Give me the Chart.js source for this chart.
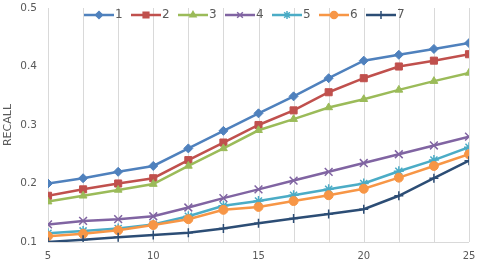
<!DOCTYPE html>
<html>
<head>
<meta charset="utf-8">
<script src="https://cdn.jsdelivr.net/npm/chart.js@4/dist/chart.umd.min.js"></script>
<style>
  html, body { margin: 0; padding: 0; background: #fff; }
  #wrap { width: 480px; height: 265px; }
</style>
</head>
<body>
<div id="wrap"><canvas id="chart"></canvas></div>
<script>
'use strict';
const xValues     = [5, 6.667, 8.333, 10, 11.667, 13.333, 15, 16.667, 18.333, 20, 21.667, 23.333, 25];
const xTickLabels = [5, 10, 15, 20, 25];
const yTicks      = [0.1, 0.2, 0.3, 0.4, 0.5];
const seriesNames = ['1', '2', '3', '4', '5', '6', '7'];

const recall1 = [0.200, 0.209, 0.220, 0.230, 0.260, 0.290, 0.320, 0.349, 0.380, 0.410, 0.420, 0.430, 0.440];
const recall2 = [0.179, 0.190, 0.200, 0.209, 0.240, 0.270, 0.300, 0.325, 0.356, 0.380, 0.400, 0.410, 0.421];
const recall3 = [0.169, 0.179, 0.189, 0.199, 0.230, 0.260, 0.291, 0.310, 0.330, 0.344, 0.360, 0.375, 0.389];
const recall4 = [0.130, 0.136, 0.139, 0.144, 0.159, 0.175, 0.190, 0.205, 0.220, 0.235, 0.250, 0.265, 0.280];
const recall5 = [0.115, 0.119, 0.123, 0.130, 0.144, 0.162, 0.170, 0.180, 0.190, 0.200, 0.221, 0.240, 0.262];
const recall6 = [0.110, 0.114, 0.120, 0.129, 0.139, 0.155, 0.160, 0.170, 0.180, 0.191, 0.210, 0.230, 0.250];
const recall7 = [0.100, 0.104, 0.108, 0.112, 0.116, 0.123, 0.132, 0.140, 0.148, 0.156, 0.179, 0.209, 0.239];

const SERIES = [recall1, recall2, recall3, recall4, recall5, recall6, recall7];
const COLORS = ['#4f81bd', '#c0504d', '#9bbb59', '#8064a2', '#4bacc6', '#f79646', '#2c4d75'];
const MARKER = [
  { style: 'rectRot',  r: 4.5, lr: 3.5 },
  { style: 'rect',     r: 5,   lr: 4 },
  { style: 'triangle', r: 4.5, lr: 3.5 },
  { style: 'crossRot', r: 5.5, lr: 4 },
  { style: 'star',     r: 5,   lr: 4 },
  { style: 'circle',   r: 4.5, lr: 3.5 },
  { style: 'cross',    r: 4.5, lr: 4 },
];
const TEXT = '#595959';
const GRID = '#d9d9d9';
const FONT = "'DejaVu Sans', sans-serif";

// legend icon: short line with the marker in the middle
function legendIcon(i) {
  const c = document.createElement('canvas');
  c.width = 30; c.height = 12;
  const ctx = c.getContext('2d');
  ctx.strokeStyle = COLORS[i]; ctx.fillStyle = COLORS[i];
  ctx.lineWidth = 2.5;
  ctx.beginPath(); ctx.moveTo(0, 6); ctx.lineTo(30, 6); ctx.stroke();
  ctx.lineWidth = 1.5;
  if (Chart.helpers && Chart.helpers.drawPoint) {
    Chart.helpers.drawPoint(ctx, { pointStyle: MARKER[i].style, radius: MARKER[i].lr, borderWidth: 1.5, rotation: 0 }, 15, 6);
  }
  return c;
}

// excel style legend in one row over the plot
const lineLegend = {
  id: 'lineLegend',
  afterDraw(chart) {
    const ctx = chart.ctx;
    ctx.save();
    ctx.font = `12px ${FONT}`;
    ctx.textBaseline = 'middle';
    ctx.fillStyle = TEXT;
    let x = 84;
    chart.data.datasets.forEach((ds, i) => {
      ctx.drawImage(legendIcon(i), x, 9);
      ctx.fillText(ds.label, x + 31, 15);
      x += 47;
    });
    ctx.restore();
  },
};

// vertical grid at every x tick + bottom axis line (the built-in grid did not show up here)
const xGrid = {
  id: 'xGrid',
  beforeDatasetsDraw(chart) {
    const { ctx, chartArea: a, scales: { x } } = chart;
    ctx.save();
    ctx.strokeStyle = GRID;
    ctx.lineWidth = 1;
    ctx.beginPath();
    x.ticks.forEach(t => {
      const px = Math.round(x.getPixelForValue(t.value)) + 0.5;
      ctx.moveTo(px, a.top);
      ctx.lineTo(px, a.bottom);
    });
    const py = Math.round(a.bottom) + 0.5;
    ctx.moveTo(a.left, py);
    ctx.lineTo(a.right, py);
    ctx.stroke();
    ctx.restore();
  },
};

const datasets = SERIES.map((vals, i) => ({
  label: seriesNames[i],
  data: xValues.map((x, j) => ({ x, y: vals[j] })),
  borderColor: COLORS[i],
  backgroundColor: COLORS[i],
  borderWidth: 2.5,
  pointStyle: MARKER[i].style,
  pointRadius: MARKER[i].r,
  pointBorderWidth: (i === 3 || i === 4 || i === 6) ? 1.5 : 1,
  pointBackgroundColor: COLORS[i],
  pointBorderColor: COLORS[i],
  tension: 0,
  order: SERIES.length - i,
}));

new Chart(document.getElementById('chart'), {
  type: 'line',
  data: { datasets },
  plugins: [xGrid, lineLegend],
  options: {
    responsive: true, maintainAspectRatio: false,
    animation: false,
    layout: { padding: { top: 8, right: 11, left: 0, bottom: 0 } },
    plugins: {
      tooltip: { enabled: false },
      legend: { display: false },
    },
    scales: {
      x: {
        type: 'linear',
        min: 5, max: 25,
        afterBuildTicks: s => { s.ticks = xValues.map(v => ({ value: v })); },
        afterFit: s => { s.height = 23; s.paddingLeft = 0; s.paddingRight = 0; },
        ticks: {
          autoSkip: false, maxRotation: 0, padding: 8,
          color: TEXT, font: { family: FONT, size: 10 },
          callback: v => {
            const r = Math.round(v);
            return Math.abs(v - r) < 0.01 && xTickLabels.includes(r) ? String(r) : '';
          },
        },
        grid: { display: false, drawTicks: false },
        border: { display: false },
      },
      y: {
        min: 0.1, max: 0.5,
        afterBuildTicks: s => { s.ticks = yTicks.map(v => ({ value: v })); },
        afterFit: s => { s.width = 48; s.paddingTop = 0; s.paddingBottom = 0; },
        ticks: {
          padding: 11, color: TEXT, font: { family: FONT, size: 10.5 },
          callback: v => v.toFixed(1),
        },
        grid: { display: false, drawTicks: false },
        border: { display: false },
        title: {
          display: true, text: 'RECALL', color: TEXT,
          font: { family: FONT, size: 11 },
          padding: { top: 2, bottom: 0 },
        },
      },
    },
  },
});
</script>
</body>
</html>
